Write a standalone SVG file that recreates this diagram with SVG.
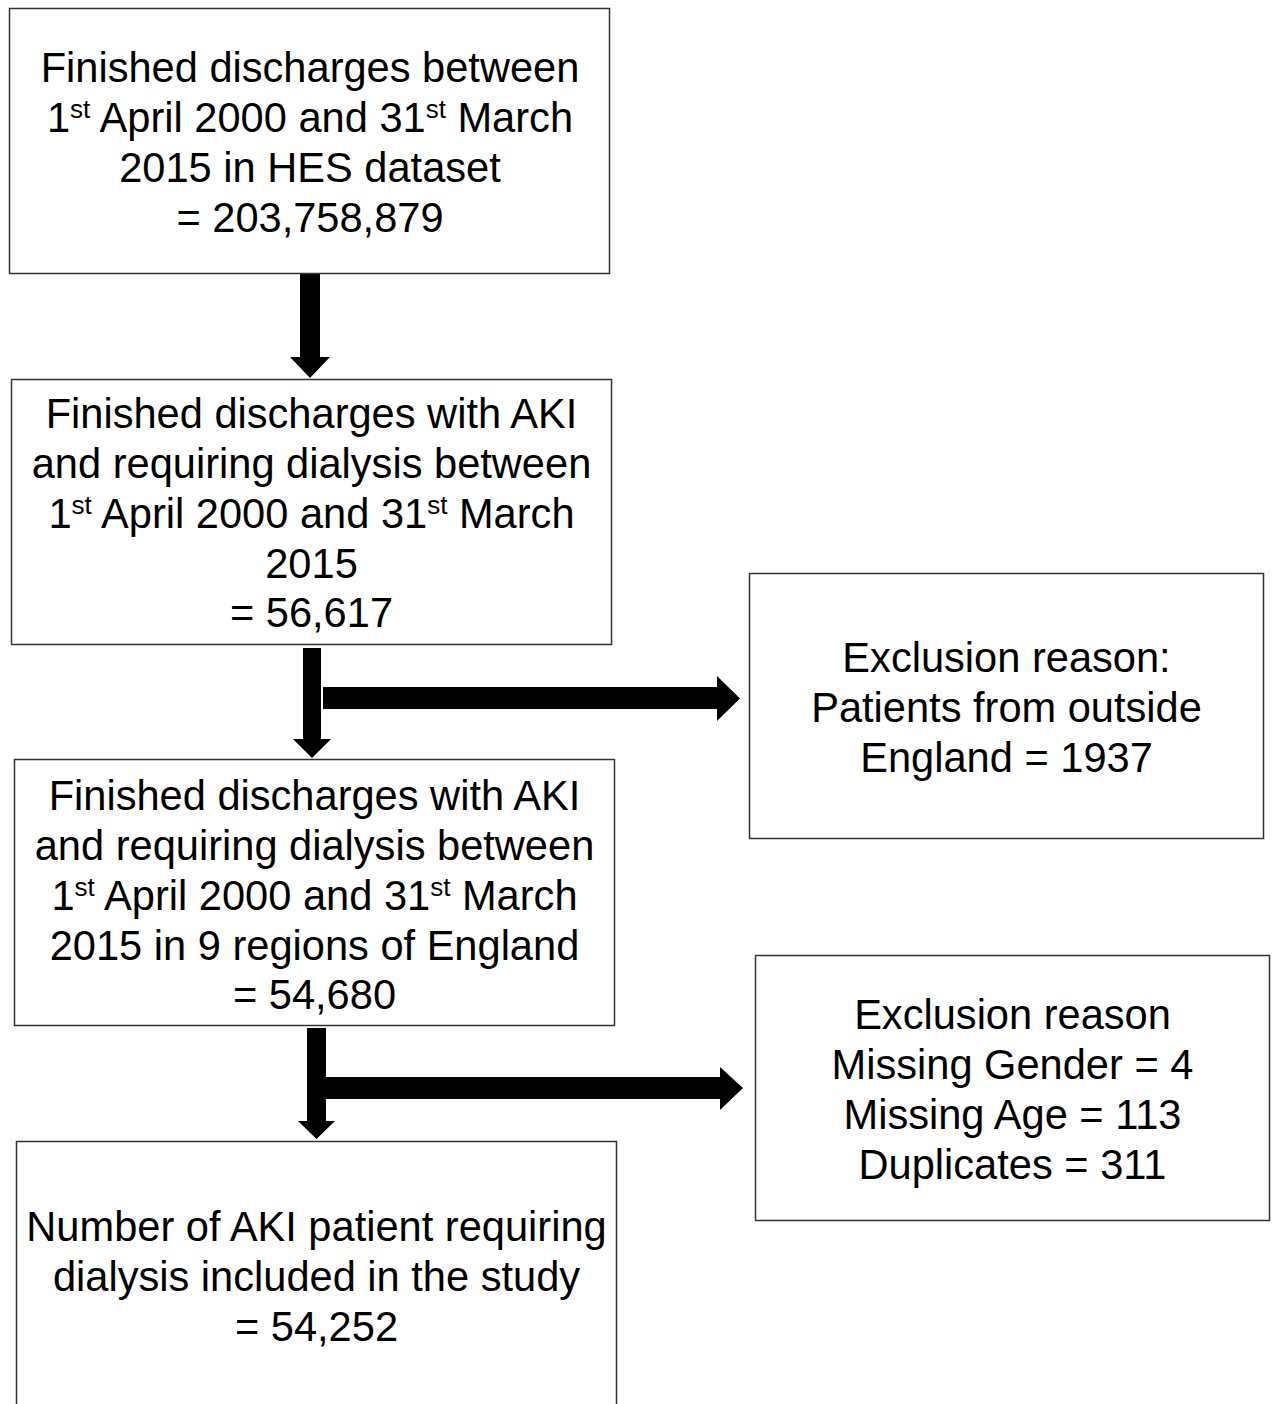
<svg xmlns="http://www.w3.org/2000/svg" width="1272" height="1404" viewBox="0 0 1272 1404">
<style>
.box{fill:#fff;stroke:#333;stroke-width:1.5}
.t{font-family:"Liberation Sans",Arial,sans-serif;font-size:41.6px;fill:#000;text-anchor:middle}
.sup{font-size:26px}
.arr{fill:#000}
</style>
<rect width="1272" height="1404" fill="#fff"/>
<g id="connectors">
<polygon class="arr" points="300,274 320,274 320,357 330,357 310,378 290,357 300,357"/>
<polygon class="arr" points="303,648 321,648 321,739 331,739 312,758 293,739 303,739"/>
<polygon class="arr" points="323,687 717,687 717,676 740,698.5 717,721 717,709 323,709"/>
<polygon class="arr" points="307,1028 326,1028 326,1121 335,1121 316.5,1139 298,1121 307,1121"/>
<polygon class="arr" points="326,1077 720,1077 720,1067 743,1088 720,1110 720,1099 326,1099"/>
</g>
<g id="n1">
<rect class="box" x="9.5" y="8.5" width="600" height="265"/>
<text class="t" x="310" y="82">Finished discharges between</text>
<text class="t" x="310" y="132">1<tspan class="sup" dy="-14">st</tspan><tspan dy="14"> April 2000 and 31</tspan><tspan class="sup" dy="-14">st</tspan><tspan dy="14"> March</tspan></text>
<text class="t" x="310" y="182">2015 in HES dataset</text>
<text class="t" x="310" y="232">= 203,758,879</text>
</g>
<g id="n2">
<rect class="box" x="11.5" y="379.5" width="600" height="265"/>
<text class="t" x="311.5" y="428">Finished discharges with AKI</text>
<text class="t" x="311.5" y="478">and requiring dialysis between</text>
<text class="t" x="311.5" y="528">1<tspan class="sup" dy="-14">st</tspan><tspan dy="14"> April 2000 and 31</tspan><tspan class="sup" dy="-14">st</tspan><tspan dy="14"> March</tspan></text>
<text class="t" x="311.5" y="578">2015</text>
<text class="t" x="311.5" y="627">= 56,617</text>
</g>
<g id="n3">
<rect class="box" x="14.5" y="759.5" width="600" height="266"/>
<text class="t" x="314.5" y="810">Finished discharges with AKI</text>
<text class="t" x="314.5" y="860">and requiring dialysis between</text>
<text class="t" x="314.5" y="910">1<tspan class="sup" dy="-14">st</tspan><tspan dy="14"> April 2000 and 31</tspan><tspan class="sup" dy="-14">st</tspan><tspan dy="14"> March</tspan></text>
<text class="t" x="314.5" y="960">2015 in 9 regions of England</text>
<text class="t" x="314.5" y="1009">= 54,680</text>
</g>
<g id="n4">
<rect class="box" x="16.5" y="1141.5" width="600" height="280"/>
<text class="t" x="316.5" y="1241">Number of AKI patient requiring</text>
<text class="t" x="316.5" y="1291">dialysis included in the study</text>
<text class="t" x="316.5" y="1341">= 54,252</text>
</g>
<g id="e1">
<rect class="box" x="749.5" y="573.5" width="514" height="265"/>
<text class="t" x="1006.5" y="672">Exclusion reason:</text>
<text class="t" x="1006.5" y="722">Patients from outside</text>
<text class="t" x="1006.5" y="772">England = 1937</text>
</g>
<g id="e2">
<rect class="box" x="755.5" y="955.5" width="514" height="265"/>
<text class="t" x="1012.5" y="1029">Exclusion reason</text>
<text class="t" x="1012.5" y="1079">Missing Gender = 4</text>
<text class="t" x="1012.5" y="1129">Missing Age = 113</text>
<text class="t" x="1012.5" y="1179">Duplicates = 311</text>
</g>
</svg>
